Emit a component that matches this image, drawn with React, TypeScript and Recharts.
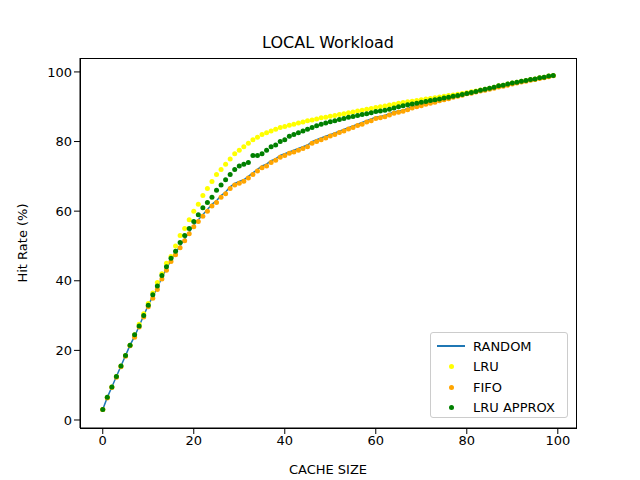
import { LineChart, Line, XAxis, YAxis } from 'recharts'

const RANDOM = [3, 6.5, 9.5, 12.5, 15.5, 18.5, 21.5, 24, 27, 30, 33, 35.5, 38, 41, 43.5, 46, 48, 50, 52, 54, 56, 57.5, 59, 60.5, 62, 63, 64.5, 65.5, 67, 68, 68.5, 69, 70, 71, 72, 73, 73.5, 74.5, 75, 76, 76.5, 77, 77.5, 78, 78.5, 79, 80, 80.5, 81, 81.5, 82, 82.5, 83, 83.5, 84, 84.5, 85, 85.5, 86, 86.5, 87, 87.2, 87.5, 88, 88.5, 88.8, 89, 89.5, 90, 90.3, 90.6, 91, 91.3, 91.6, 92, 92.3, 92.6, 93, 93.3, 93.6, 94, 94.2, 94.5, 94.8, 95, 95.3, 95.6, 96, 96.2, 96.5, 96.8, 97, 97.3, 97.5, 97.8, 98, 98.3, 98.5, 98.8, 99]
const FIFO = [3, 6.3, 9.3, 12.3, 15.3, 18.3, 21.3, 23.8, 26.7, 29.6, 32.5, 35, 37.5, 40.5, 43, 45.5, 47.5, 49.5, 51.5, 53.5, 55.5, 57, 58.5, 60, 61.5, 62.5, 64, 65, 66.5, 67.5, 68, 68.6, 69.5, 70.5, 71.5, 72.5, 73, 74, 74.6, 75.5, 76, 76.6, 77, 77.5, 78, 78.5, 79.5, 80, 80.5, 81, 81.6, 82, 82.6, 83, 83.6, 84, 84.6, 85, 85.6, 86, 86.6, 86.8, 87.1, 87.6, 88.1, 88.4, 88.7, 89.1, 89.6, 90, 90.3, 90.7, 91, 91.3, 91.7, 92, 92.3, 92.7, 93, 93.3, 93.7, 93.9, 94.2, 94.5, 94.7, 95, 95.3, 95.7, 95.9, 96.2, 96.5, 96.8, 97.1, 97.3, 97.6, 97.8, 98.1, 98.3, 98.6, 98.9]
const LRU = [3, 6.5, 9.5, 12.5, 15.5, 18.5, 21.5, 24.5, 27.5, 30.5, 33.5, 36.5, 39.5, 42, 45, 47, 50, 53, 55, 57.5, 60, 62, 64.5, 66.5, 68.5, 70.5, 72, 73.5, 75, 76.5, 77.5, 78.5, 79.5, 80.5, 81.2, 82, 82.5, 83, 83.5, 84, 84.3, 84.7, 85, 85.3, 85.6, 86, 86.2, 86.5, 86.8, 87, 87.3, 87.5, 87.8, 88, 88.3, 88.5, 88.8, 89, 89.3, 89.5, 89.8, 90, 90.2, 90.5, 90.7, 91, 91.2, 91.4, 91.6, 91.8, 92, 92.2, 92.4, 92.6, 92.8, 93, 93.2, 93.4, 93.6, 93.8, 94, 94.3, 94.5, 94.8, 95, 95.3, 95.6, 96, 96.2, 96.5, 96.8, 97, 97.3, 97.5, 97.8, 98, 98.3, 98.5, 98.8, 99]
const LRU_APPROX = [3, 6.5, 9.5, 12.5, 15.5, 18.5, 21.5, 24.5, 27, 30, 33, 36, 38.5, 41.5, 44, 46.5, 48.5, 51, 53, 55, 57, 59, 61, 62.5, 64, 66, 67.5, 69, 70.5, 72, 73, 73.5, 74, 76, 76, 76.5, 77.5, 78.5, 79, 80, 80.5, 81.5, 82, 82.5, 83, 83.5, 84, 84.5, 85, 85.3, 85.7, 86, 86.3, 86.6, 87, 87.2, 87.5, 87.8, 88, 88.3, 88.6, 88.8, 89, 89.3, 89.6, 90, 90.3, 90.6, 90.8, 91, 91.3, 91.5, 91.8, 92, 92.2, 92.5, 92.7, 93, 93.2, 93.5, 93.8, 94.1, 94.4, 94.7, 95, 95.3, 95.6, 96, 96.2, 96.5, 96.8, 97, 97.3, 97.5, 97.8, 98, 98.3, 98.5, 98.8, 99]
const TICKS = [0, 20, 40, 60, 80, 100]

const data = RANDOM.map((r, i) => ({ size: i, random: r, lru: LRU[i], fifo: FIFO[i], approx: LRU_APPROX[i] }))

const font = 'DejaVu Sans, sans-serif'
const tick = { fontSize: 13, fill: '#000', fontFamily: font }

const legend = [
  { name: 'RANDOM', color: '#1f77b4', line: true },
  { name: 'LRU', color: '#ffff00' },
  { name: 'FIFO', color: '#ffa500' },
  { name: 'LRU APPROX', color: '#008000' },
]

const dot = (c: string) => ({ r: 2.5, fill: c, stroke: c, strokeWidth: 0 })

export default function App() {
  return (
    <div style={{ position: 'absolute', left: 0, top: 0, width: 640, height: 480, background: '#fff', fontFamily: font }}>
      <div style={{ position: 'absolute', top: 33, width: 656, textAlign: 'center', fontSize: 16 }}>LOCAL Workload</div>
      <LineChart width={640} height={480} data={data} margin={{ top: 58, right: 64, bottom: 0, left: 0 }}>
        <XAxis dataKey="size" type="number" domain={[-5, 104]} ticks={TICKS} tick={tick} height={52} stroke="#000"
          label={{ value: 'CACHE SIZE', position: 'insideBottom', offset: 6, fill: '#000', fontSize: 13, fontFamily: font }} />
        <YAxis type="number" domain={[-2.3, 104]} ticks={TICKS} tick={tick} width={80} stroke="#000"
          label={{ value: 'Hit Rate (%)', angle: -90, position: 'insideLeft', offset: 22, fill: '#000', fontSize: 13, fontFamily: font, style: { textAnchor: 'middle' } }} />
        <Line dataKey="random" stroke="#1f77b4" strokeWidth={1.5} dot={false} isAnimationActive={false} />
        <Line dataKey="lru" stroke="none" dot={dot('#ffff00')} activeDot={false} isAnimationActive={false} />
        <Line dataKey="fifo" stroke="none" dot={dot('#ffa500')} activeDot={false} isAnimationActive={false} />
        <Line dataKey="approx" stroke="none" dot={dot('#008000')} activeDot={false} isAnimationActive={false} />
      </LineChart>
      <div style={{ position: 'absolute', left: 80, top: 58, width: 495, height: 369, border: '1px solid #000', pointerEvents: 'none' }} />
      <div style={{ position: 'absolute', left: 430, top: 332, width: 138, height: 86, border: '1px solid #ccc', borderRadius: 3, background: '#fff', fontSize: 13, padding: '3px 0 0 6px', boxSizing: 'border-box' }}>
        {legend.map(l => (
          <div key={l.name} style={{ display: 'flex', alignItems: 'center', height: 20.5 }}>
            <div style={{ width: 28, display: 'flex', justifyContent: 'center' }}>
              {l.line
                ? <div style={{ width: 28, height: 2, background: l.color }} />
                : <div style={{ width: 5, height: 5, borderRadius: '50%', background: l.color }} />}
            </div>
            <span style={{ marginLeft: 8 }}>{l.name}</span>
          </div>
        ))}
      </div>
    </div>
  )
}
